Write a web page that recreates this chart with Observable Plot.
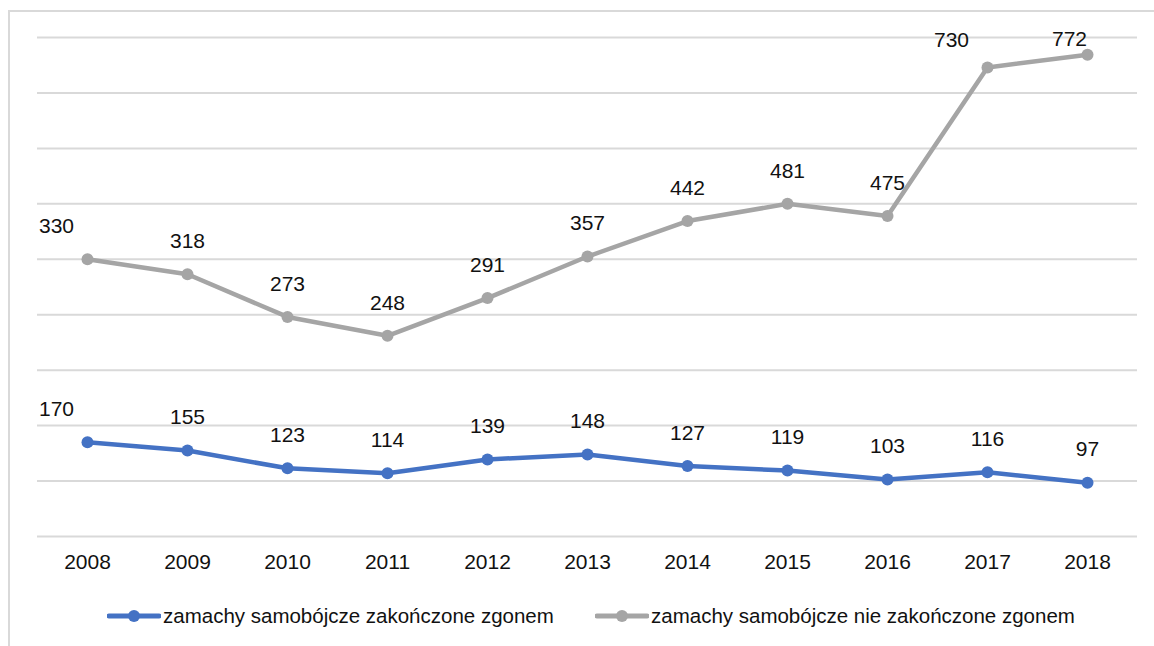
<!DOCTYPE html>
<html>
<head>
<meta charset="utf-8">
<script src="https://cdn.jsdelivr.net/npm/d3@7"></script>
<script src="https://cdn.jsdelivr.net/npm/@observablehq/plot@0.6"></script>
<style>
  html, body { margin: 0; padding: 0; background: #fff; }
  body { width: 1154px; height: 646px; position: relative; overflow: hidden; font-family: "Liberation Sans", Arial, sans-serif; }
  #frame { position: absolute; left: 8px; top: 10px; right: -4px; bottom: -4px; border-left: 2px solid #d9d9d9; border-top: 2px solid #d9d9d9; }
  #chart { position: absolute; left: 0; top: 0; }
  #legend { position: absolute; top: 602px; left: 0; width: 1154px; height: 28px; font-size: 20.5px; color: #111; }
  .item { position: absolute; top: 0; display: flex; align-items: center; height: 28px; }
  .item span { margin-left: 2px; }
</style>
</head>
<body>
<div id="frame"></div>
<div id="chart"></div>
<div id="legend"></div>
<script>
const years = [2008, 2009, 2010, 2011, 2012, 2013, 2014, 2015, 2016, 2017, 2018];
const fatal = [170, 155, 123, 114, 139, 148, 127, 119, 103, 116, 97];
const nonFatal = [330, 318, 273, 248, 291, 357, 442, 481, 475, 730, 772];
const seriesNames = ["zamachy samobójcze zakończone zgonem", "zamachy samobójcze nie zakończone zgonem"];
const colors = ["#4472C4", "#A5A5A5"];

// stacked line chart: second series is drawn on top of the first
const rows = [
  ...years.map((y, i) => ({year: y, series: seriesNames[0], value: fatal[i], top: fatal[i]})),
  ...years.map((y, i) => ({year: y, series: seriesNames[1], value: nonFatal[i], top: fatal[i] + nonFatal[i]}))
];

// label nudges (Excel labels that were moved off-centre)
const labelDx = d => d.year === 2008 ? -31 : (d.series === seriesNames[1] && d.year === 2017 ? -36 : (d.series === seriesNames[1] && d.year === 2018 ? -18 : 0));
const labelDy = d => d.series === seriesNames[1] && d.year === 2017 ? -27 : (d.series === seriesNames[1] && d.year === 2018 ? -15 : -33);
const groups = d3.groups(rows, d => labelDx(d) + "," + labelDy(d));

const chart = Plot.plot({
  width: 1154,
  height: 580,
  marginTop: 37,
  marginBottom: 44,
  marginLeft: 37,
  marginRight: 17,
  style: {fontFamily: "Liberation Sans, Arial, sans-serif", background: "transparent", overflow: "visible"},
  x: {type: "point", domain: years, padding: 0.5, label: null},
  y: {domain: [0, 900], label: null, axis: null},
  color: {domain: seriesNames, range: colors},
  marks: [
    Plot.gridY(d3.range(0, 901, 100), {stroke: "#d9d9d9", strokeOpacity: 1, strokeWidth: 2}),
    Plot.axisX({tickSize: 0, tickPadding: 18, fontSize: 21, fill: "#111", tickFormat: d => String(d), label: null}),
    Plot.lineY(rows, {x: "year", y: "top", z: "series", stroke: "series", strokeWidth: 4.5}),
    Plot.dot(rows, {x: "year", y: "top", fill: "series", r: 6}),
    ...groups.map(([key, g]) => {
      const [dx, dy] = key.split(",").map(Number);
      return Plot.text(g, {x: "year", y: "top", text: "value", dx, dy, fontSize: 21, fill: "#111"});
    })
  ]
});
document.getElementById("chart").appendChild(chart);

// legend
const legend = document.getElementById("legend");
const lefts = [107, 595];
seriesNames.forEach((name, i) => {
  const item = document.createElement("div");
  item.className = "item";
  item.style.left = lefts[i] + "px";
  item.innerHTML = `<svg width="54" height="14"><line x1="2" y1="7" x2="52" y2="7" stroke="${colors[i]}" stroke-width="5" stroke-linecap="round"/><circle cx="27" cy="7" r="6" fill="${colors[i]}"/></svg><span>${name}</span>`;
  legend.appendChild(item);
});
</script>
</body>
</html>
